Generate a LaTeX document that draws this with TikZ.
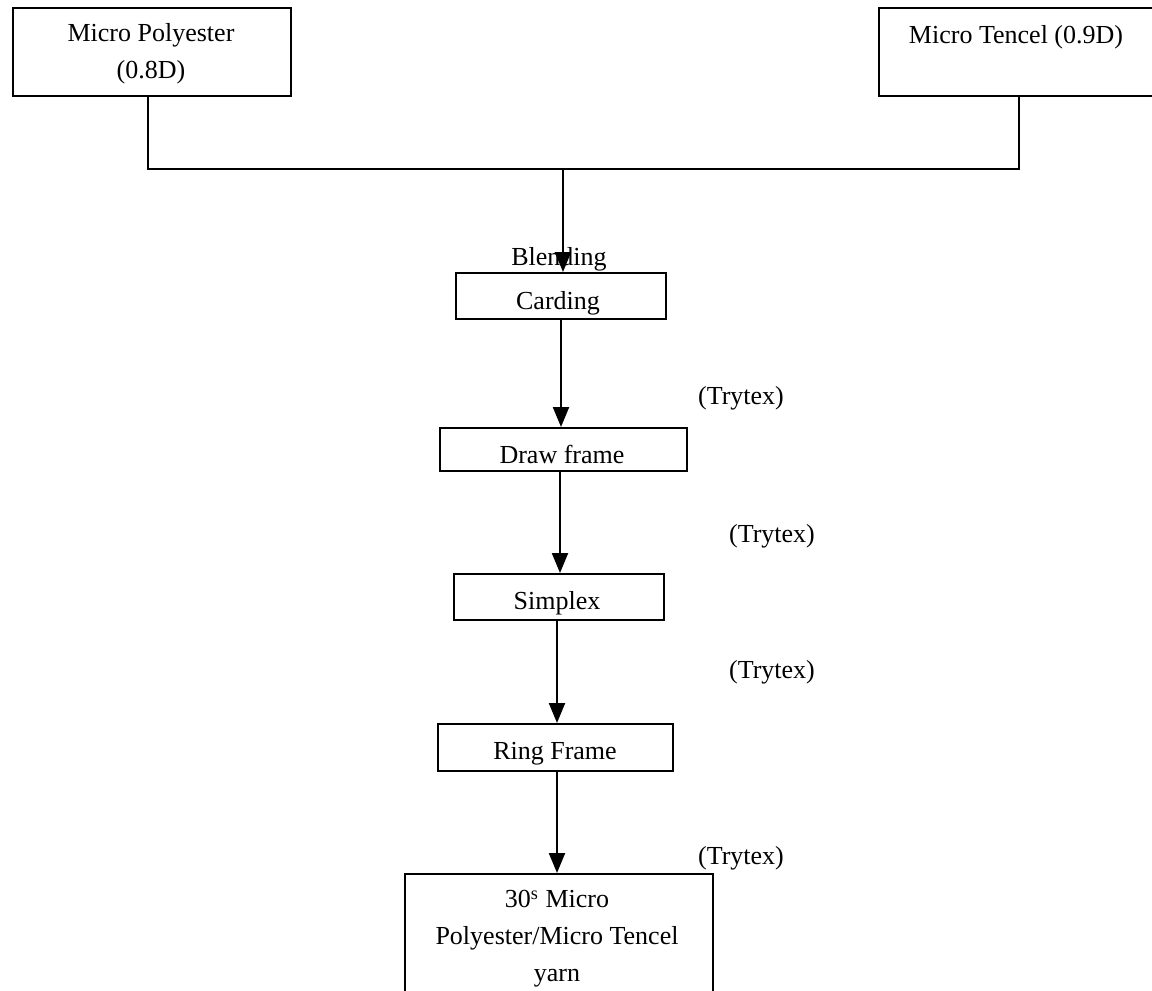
\documentclass[tikz,border=0pt]{standalone}
\usepackage{fontspec}
\setmainfont{Liberation Serif}
\usetikzlibrary{arrows.meta}
\begin{document}
\begin{tikzpicture}[x=0.5pt,y=-0.5pt,
  font=\fontsize{13pt}{18.5pt}\selectfont,
  box/.style={draw,line width=1.1pt,inner sep=0pt,anchor=north west},
  lbl/.style={inner sep=0pt,align=center},
  flow/.style={line width=1.1pt,-{Triangle[length=10pt,width=8pt]}},
  link/.style={line width=1pt}]
\useasboundingbox (0,0) rectangle (1152,991);
% boxes
\node[box,minimum width=139pt,minimum height=44pt] (mp) at (12,7) {};
\node[lbl] (mpt) at (151,54) {Micro Polyester\\(0.8D)};
\node[box,minimum width=145pt,minimum height=44pt] (mt) at (878,7) {};
\node[lbl] (mtt) at (1016,37) {Micro Tencel (0.9D)};
\node[box,minimum width=105pt,minimum height=23pt] (card) at (455,272) {};
\node[lbl] (cardt) at (558,303) {Carding};
\node[box,minimum width=123.5pt,minimum height=21.5pt] (draw) at (439,427) {};
\node[lbl] (drawt) at (562,454) {Draw frame};
\node[box,minimum width=105pt,minimum height=23pt] (simp) at (453,573) {};
\node[lbl] (simpt) at (557,603) {Simplex};
\node[box,minimum width=117.5pt,minimum height=23.5pt] (ring) at (437,723) {};
\node[lbl] (ringt) at (555,754) {Ring Frame};
\node[box,minimum width=154pt,minimum height=70pt] (yarn) at (404,873) {};
\node[lbl] (yarnt) at (557,939) {30\textsuperscript{s} Micro\\Polyester/Micro Tencel\\yarn};
% labels
\node[lbl] (blend) at (559,259) {Blending};
\node[lbl] (t1) at (741,398) {(Trytex)};
\node[lbl] (t2) at (772,536) {(Trytex)};
\node[lbl] (t3) at (772,672) {(Trytex)};
\node[lbl] (t4) at (741,858) {(Trytex)};
% connectors
\coordinate (jl) at (148,169);
\coordinate (jr) at (1019,169);
\coordinate (jm) at (563,169);
\draw[link] (mp.south -| jl) -- (jl) -- (jr) -- (mt.south -| jr);
\draw[flow] (jm) -- (card.north -| jm);
\draw[flow] (card.south -| 561,0) -- (draw.north -| 561,0);
\draw[flow] (draw.south -| 560,0) -- (simp.north -| 560,0);
\draw[flow] (simp.south -| 557,0) -- (ring.north -| 557,0);
\draw[flow] (ring.south -| 557,0) -- (yarn.north -| 557,0);
\end{tikzpicture}
\end{document}
